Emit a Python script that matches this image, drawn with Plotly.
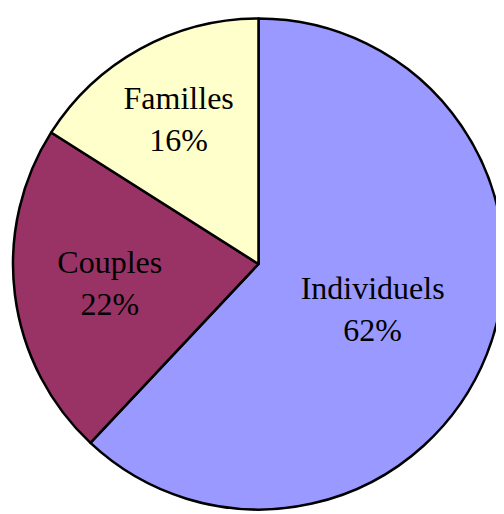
import plotly.graph_objects as go

labels = ["Individuels", "Couples", "Familles"]
values = [62, 22, 16]
colors = ["#9999FF", "#993366", "#FFFFCC"]

fig = go.Figure(go.Pie(
    labels=labels,
    values=values,
    sort=False,
    direction="clockwise",
    rotation=0,
    marker=dict(colors=colors, line=dict(color="black", width=2.5)),
    texttemplate="%{label}<br>%{percent:.0%}",
    textposition="inside",
    insidetextorientation="horizontal",
    textfont=dict(family="Liberation Serif", size=32, color="black"),
    showlegend=False,
    hoverinfo="skip",
))
fig.update_layout(
    width=504, height=514,
    margin=dict(l=5, r=8, t=10, b=12),
    paper_bgcolor="white",
    plot_bgcolor="white",
)
fig.write_html("out.html")
